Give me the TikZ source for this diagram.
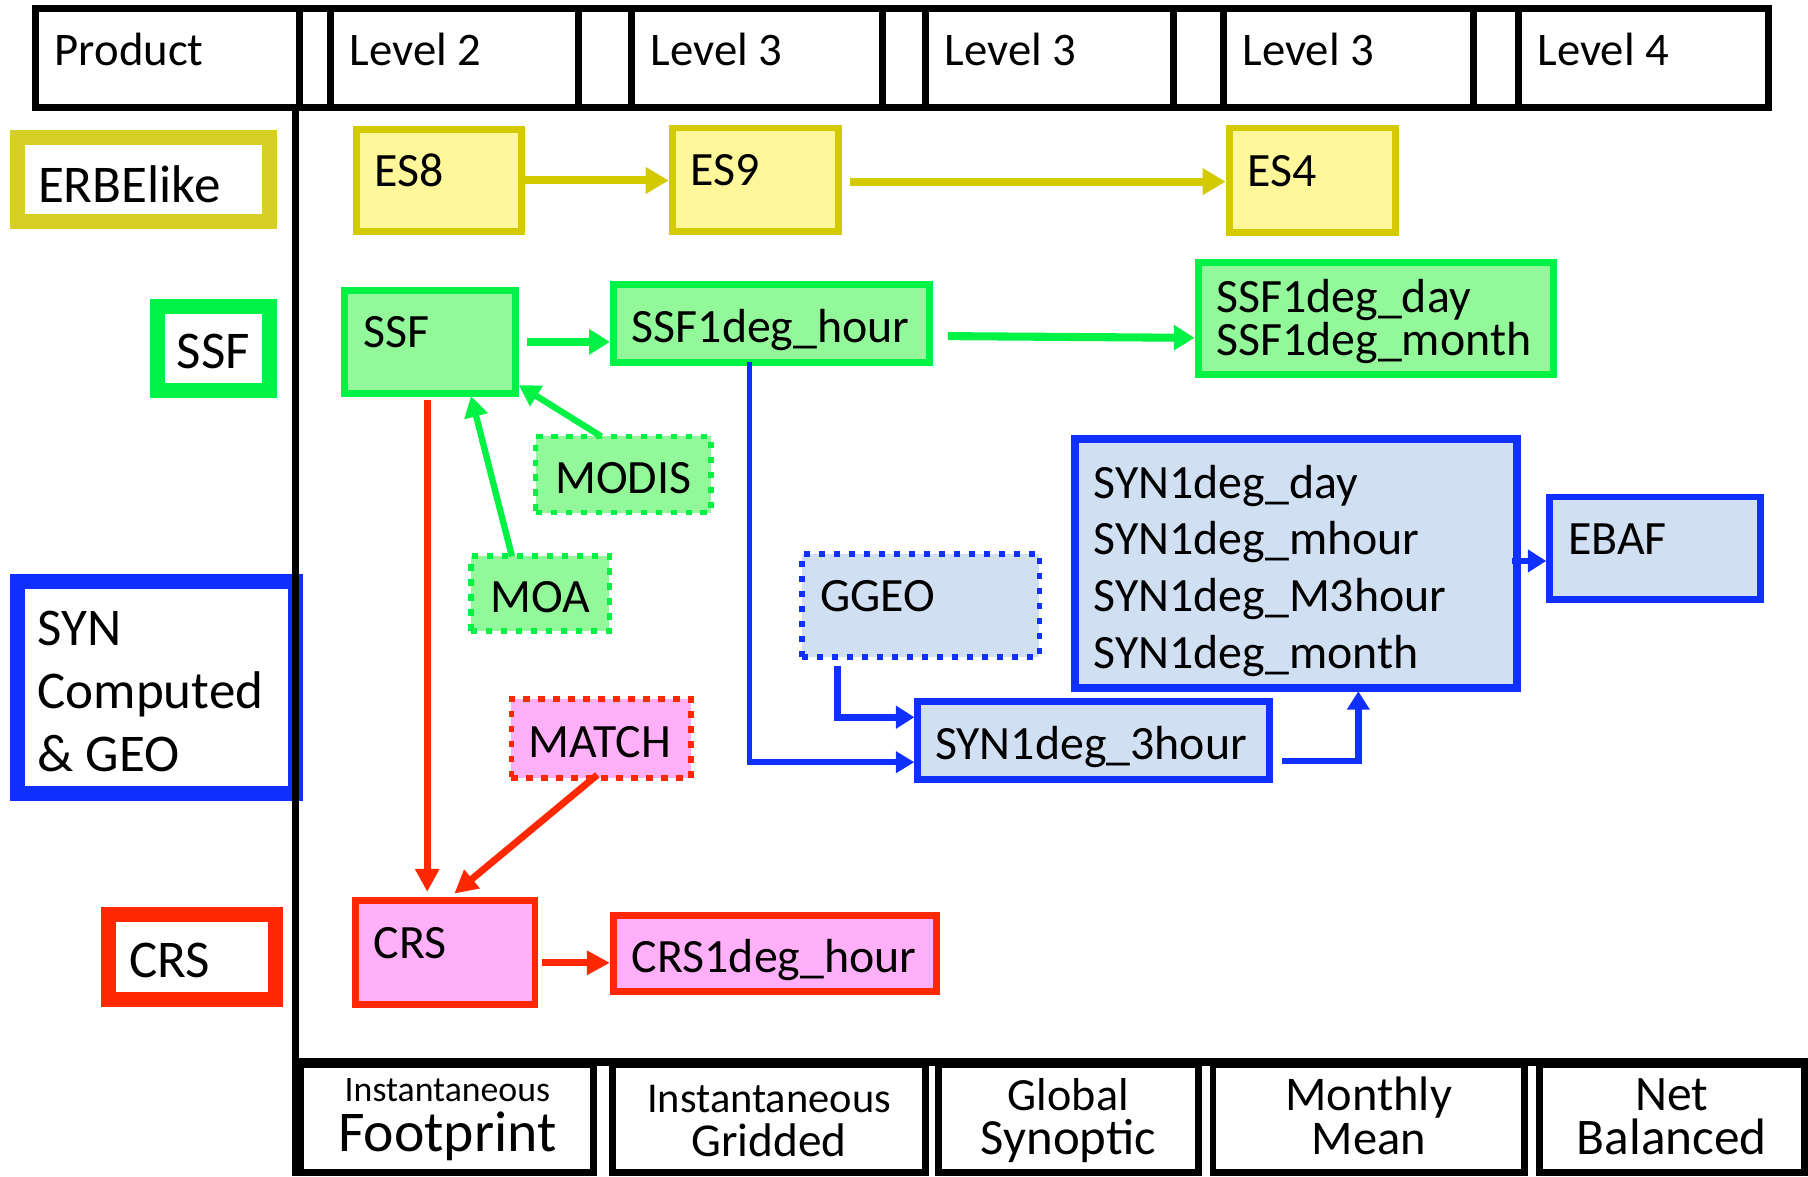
\documentclass[tikz,border=0pt]{standalone}
\usepackage{fontspec}
\setmainfont{Carlito}
\usetikzlibrary{arrows.meta,calc}

\definecolor{ybd}{RGB}{212,202,0}
\definecolor{yfill}{RGB}{255,247,153}
\definecolor{lbly}{RGB}{214,208,38}
\definecolor{gbd}{RGB}{0,242,68}
\definecolor{gfill}{RGB}{146,248,154}
\definecolor{bbd}{RGB}{16,48,255}
\definecolor{bfill}{RGB}{208,224,242}
\definecolor{rbd}{RGB}{255,40,0}
\definecolor{rfill}{RGB}{255,176,248}

\begin{document}
% lines inside multi-line nodes keep exactly their baseline skip
\lineskiplimit=-50pt
\begin{tikzpicture}[x=1pt,y=-1pt,
  every node/.style={font=\fontsize{41.5}{48}\selectfont},
  % width, height, horizontal padding (path-centred sizes)
  sized/.style n args={3}{minimum width=#1pt, minimum height=#2pt,
    text width=#1pt-#3pt-#3pt, inner xsep=#3pt, inner ysep=0pt, outer sep=0pt},
  txtup/.style={text height=27pt, text depth=16.8pt},
  txtmid/.style={text height=34pt, text depth=0.8pt},
  ybox/.style={draw=ybd, fill=yfill, line width=6pt, align=flush left, txtup},
  gbox/.style={draw=gbd, fill=gfill, line width=6pt, align=flush left},
  bbox/.style={draw=bbd, fill=bfill, line width=6pt, align=flush left},
  rbox/.style={draw=rbd, fill=rfill, line width=6pt, align=flush left},
  dots/.style={line width=5pt, dash pattern=on 5.5pt off 7.5pt},
  lbl/.style={fill=white, line width=13pt, align=flush left,
    font=\fontsize{46}{55}\selectfont, text depth=0pt},
  hdr/.style={draw=black, fill=white, line width=6pt, align=flush left,
    font=\fontsize{40.5}{48}\selectfont, text height=26pt, text depth=12.7pt},
  foot/.style={draw=black, fill=white, line width=6pt, align=center},
  yarr/.style={color=ybd, line width=7pt, -{Triangle[length=20pt,width=22pt]}, shorten >=3pt},
  garr/.style={color=gbd, line width=7pt, -{Triangle[length=18pt,width=21pt]}, shorten >=3pt},
  garrd/.style={color=gbd, line width=5.5pt, -{Triangle[length=18pt,width=20pt]}},
  rarr/.style={color=rbd, line width=6pt, -{Triangle[length=20pt,width=20pt]}, shorten >=3pt},
  barr/.style={color=bbd, line width=5pt, -{Triangle[length=16pt,width=18pt]}, shorten >=3pt},
  barrw/.style={color=bbd, line width=6pt, -{Triangle[length=16pt,width=19pt]}, shorten >=3pt}
]
\useasboundingbox (0,0) rectangle (1568,1020);
\fill[white] (0,0) rectangle (1568,1020);

% ---- header row ----
\node[hdr, sized={229}{86}{16.5}] (hprod) at (145.5,50) {Product};
\node[hdr, sized={215}{86}{16.5}] (hl2)  at (394.5,50) {Level 2};
\node[hdr, sized={217}{86}{16.5}] (hl3a) at (656.5,50) {Level 3};
\node[hdr, sized={215}{86}{16.5}] (hl3b) at (910.5,50) {Level 3};
\node[hdr, sized={217}{86}{16.5}] (hl3c) at (1169.5,50) {Level 3};
\node[hdr, sized={217}{86}{16.5}] (hl4)  at (1425.5,50) {Level 4};
\draw[line width=6pt] (31,7) -- (1534,7) (31,93) -- (1534,93);

% ---- product labels on the left ----
\node[lbl, draw=lbly, sized={218}{73}{17.5}, text height=39pt] (lerbe) at (124.5,156) {ERBElike};
\node[lbl, draw=gbd, sized={97}{73}{17}, text height=35pt] (lssf) at (185,302) {SSF};
\node[lbl, draw=bbd, sized={241}{184}{17}, text height=30pt, text depth=104pt]
  (lsyn) at (136,596.5) {SYN\\Computed\\\& GEO};
\node[lbl, draw=rbd, sized={144}{73}{17.5}, text height=36pt] (lcrs) at (166.5,830) {CRS};

% ---- frame lines ----
\draw[line width=6pt] (256.5,93) -- (256.5,1020);

% ---- footer row ----
\node[foot, sized={254}{94}{3}, text height=15pt, text depth=45pt,
  font=\fontsize{40}{43.4}\selectfont] (cfoot) at (388,970)
  {{\fontsize{31}{43.4}\selectfont Instantaneous}\\{\fontsize{50}{43.4}\selectfont Footprint}};
\node[foot, sized={271}{94}{3}, text height=20pt, text depth=30pt,
  font=\fontsize{41}{38}\selectfont] (cgrid) at (667,970)
  {{\fontsize{36.8}{38}\selectfont Instantaneous}\\Gridded};
\node[foot, sized={225}{94}{3}, text height=20pt, text depth=34pt,
  font=\fontsize{40}{38}\selectfont] (cglob) at (926.5,970)
  {Global\\{\fontsize{44}{38}\selectfont Synoptic}};
\node[foot, sized={270}{94}{3}, text height=20pt, text depth=34pt,
  font=\fontsize{42}{38}\selectfont] (cmonth) at (1187,970)
  {Monthly\\Mean};
\node[foot, sized={230}{94}{3}, text height=20pt, text depth=34pt,
  font=\fontsize{43}{38}\selectfont] (cnet) at (1450,970)
  {Net\\{\fontsize{44.5}{38}\selectfont Balanced}};
\draw[line width=7pt] (256.5,921) -- (1568,921);

% ---- ERBE-like products ----
\node[ybox, sized={143}{89}{16}] (es8) at (380.5,156.5) {ES8};
\node[ybox, sized={144}{90}{16}] (es9) at (655,156) {ES9};
\node[ybox, sized={144}{91}{16}] (es4) at (1138,156.5) {ES4};

% ---- SSF products ----
\node[gbox, txtup, sized={148}{89}{16}] (ssf) at (373,296.5) {SSF};
\node[gbox, txtmid, sized={274}{67}{16}] (ssfh) at (669,280.5) {SSF1deg\_hour};
\node[gbox, sized={308}{97}{16}, text height=27pt, text depth=38.8pt,
  font=\fontsize{41.5}{37.5}\selectfont] (ssfd) at (1193,276.5)
  {SSF1deg\_day\\SSF1deg\_month};
\node[gbox, dots, txtmid, sized={152}{66}{17}] (modis) at (540.5,411.5) {MODIS};
\node[gbox, dots, txtmid, sized={120}{65}{17}] (moa) at (468.5,515) {MOA};

% ---- SYN / GEO products ----
\node[bbox, dots, txtup, sized={206}{89}{16}] (ggeo) at (798.5,525) {GGEO};
\node[bbox, txtmid, sized={305}{68}{15}] (syn3) at (948.5,642) {SYN1deg\_3hour};
\node[bbox, line width=7pt, sized={383}{216}{16}, text height=27pt, text depth=139.8pt,
  font=\fontsize{41.5}{49.2}\selectfont] (synb) at (1124,488.5)
  {SYN1deg\_day\\SYN1deg\_mhour\\SYN1deg\_M3hour\\SYN1deg\_month};
\node[bbox, txtup, sized={183}{89}{16}] (ebaf) at (1435.5,475.5) {EBAF};

% ---- CRS products ----
\node[rbox, dots, txtmid, sized={156}{68}{15}] (match) at (521.5,640.5) {MATCH};
\node[rbox, txtup, sized={156}{90}{16}] (crs) at (386,826) {CRS};
\node[rbox, txtmid, sized={280}{66}{16}] (crsh) at (672,827) {CRS1deg\_hour};

% ---- connectors ----
\draw[yarr] (es8.east) -- (es8.east -| es9.west);
\coordinate (e9o) at ($(es9.east)+(10,1.5)$);
\draw[yarr] (e9o) -- (e9o -| es4.west);

\coordinate (s0) at ($(ssf.east)+(10,0)$);
\draw[garr] (s0) -- (s0 -| ssfh.west);
\coordinate (sh1) at ($(ssfh.east)+(16,11)$);
\coordinate (sd1) at ($(ssfd.west)+(0,16.5)$);
\draw[garr] (sh1) -- (sd1);
\draw[garrd] ($(modis.north)+(-19,0)$) -- ($(ssf.south east)+(3,-7)$);
\draw[garrd] ($(moa.north)+(-24.5,0)$) -- ($(ssf.south)+(35.5,2.5)$);

\coordinate (r1) at ($(ssf.south)+(-2.5,6)$);
\draw[rarr, shorten >=7.5pt] (r1) -- (r1 |- crs.north);
\draw[rarr, shorten >=0pt] ($(match.south)+(-3.5,-2.5)$) -- ($(crs.north)+(8,-6)$);
\coordinate (c1) at ($(crs.east)+(6,9)$);
\draw[rarr] (c1) -- (c1 -| crsh.west);

\coordinate (b1) at ($(ssfh.south)+(-19,0)$);
\coordinate (b2) at ($(syn3.west)+(0,19)$);
\draw[barr] (b1) |- (b2);
\coordinate (g1) at ($(ggeo.south)+(-72.5,8.5)$);
\coordinate (g2) at ($(syn3.west)+(0,-20)$);
\draw[barrw] (g1) |- (g2);
\coordinate (t1) at ($(syn3.east)+(11,18)$);
\coordinate (t2) at ($(synb.south)+(54,0)$);
\draw[barrw] (t1) -| (t2);
\coordinate (e1) at ($(synb.east)+(-4,-2)$);
\draw[barrw] (e1) -- (e1 -| ebaf.west);
\end{tikzpicture}
\end{document}
